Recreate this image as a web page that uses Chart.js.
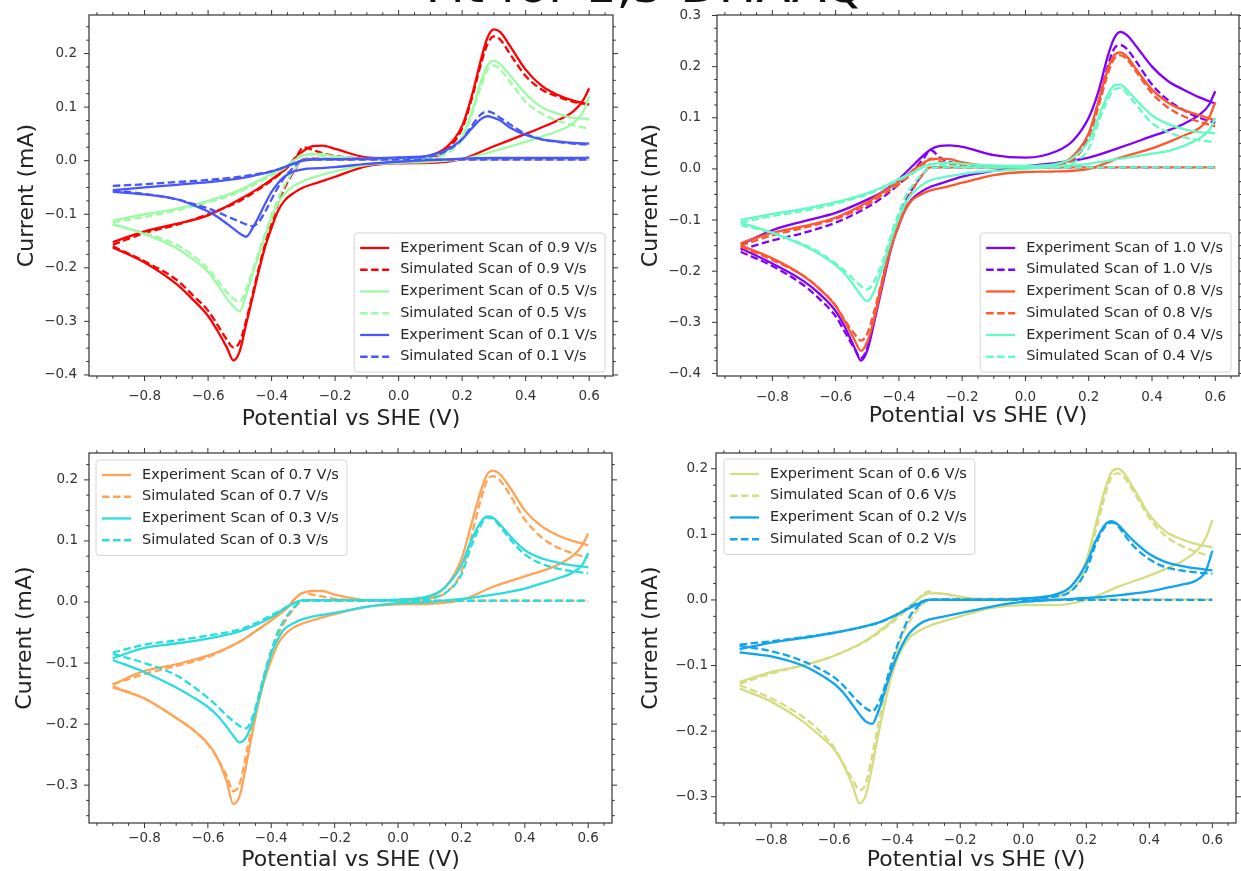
<!DOCTYPE html>
<html><head><meta charset="utf-8">
<script src="https://cdn.jsdelivr.net/npm/chart.js@4.4.0/dist/chart.umd.min.js"></script>
<style>
html,body{margin:0;padding:0;background:#fff;overflow:hidden;width:1241px;height:871px;position:relative;}
canvas{position:absolute;}
#title{position:absolute;left:0;top:-40px;width:1290px;text-align:center;font:50px/50px "DejaVu Sans";color:#111;white-space:nowrap;z-index:5;}
</style></head><body>
<canvas id="c1" width="620" height="435" style="left:0;top:0"></canvas>
<canvas id="c2" width="621" height="435" style="left:620px;top:0"></canvas>
<canvas id="c3" width="620" height="436" style="left:0;top:435px"></canvas>
<canvas id="c4" width="621" height="436" style="left:620px;top:435px"></canvas>
<div id="title">Fit for 1,5 DHAAQ</div>
<script>
// Potential grids (V vs SHE): cathodic sweep branch and anodic sweep branch
const NEG_X = [-0.9,-0.8,-0.7,-0.65,-0.6,-0.57,-0.54,-0.52,-0.5,-0.48,-0.46,-0.44,-0.42,-0.4,-0.38,-0.36,-0.33,-0.3,-0.25,-0.2,-0.1,0.0,0.1,0.2,0.3,0.4,0.45,0.5,0.55,0.58,0.6];
const POS_X = [-0.9,-0.8,-0.7,-0.6,-0.5,-0.45,-0.4,-0.35,-0.32,-0.3,-0.27,-0.24,-0.2,-0.1,0.0,0.1,0.15,0.2,0.23,0.26,0.28,0.3,0.32,0.35,0.4,0.45,0.5,0.55,0.6];

// Current (mA) — 0.9 V/s
const exp_09_c = [-0.162,-0.19,-0.23,-0.258,-0.29,-0.318,-0.35,-0.373,-0.355,-0.305,-0.255,-0.205,-0.16,-0.125,-0.094,-0.075,-0.06,-0.05,-0.04,-0.03,-0.01,-0.005,-0.004,0.003,0.027,0.05,0.062,0.075,0.092,0.112,0.135];
const exp_09_a = [-0.152,-0.132,-0.118,-0.102,-0.072,-0.055,-0.035,-0.012,0.008,0.018,0.027,0.028,0.022,0.006,0.004,0.01,0.025,0.065,0.12,0.19,0.23,0.245,0.24,0.215,0.17,0.14,0.123,0.112,0.105];
const sim_09_c = [-0.16,-0.188,-0.222,-0.25,-0.28,-0.307,-0.335,-0.349,-0.338,-0.298,-0.25,-0.2,-0.155,-0.115,-0.08,-0.052,-0.02,0.003,0.004,0.003,0.003,0.003,0.003,0.003,0.003,0.003,0.003,0.003,0.003,0.003,0.003];
const sim_09_a = [-0.157,-0.135,-0.12,-0.1,-0.075,-0.057,-0.037,-0.012,0.01,0.025,0.02,0.014,0.009,0.004,0.004,0.006,0.02,0.06,0.115,0.182,0.218,0.232,0.226,0.2,0.158,0.133,0.12,0.11,0.105];
// 0.5 V/s
const exp_05_c = [-0.118,-0.137,-0.163,-0.183,-0.208,-0.232,-0.258,-0.272,-0.281,-0.25,-0.212,-0.176,-0.14,-0.107,-0.08,-0.062,-0.047,-0.038,-0.028,-0.02,-0.008,-0.004,-0.002,0.003,0.018,0.035,0.045,0.055,0.07,0.09,0.12];
const exp_05_a = [-0.112,-0.1,-0.09,-0.075,-0.055,-0.04,-0.025,-0.008,0.004,0.01,0.013,0.012,0.008,0.004,0.004,0.008,0.018,0.045,0.09,0.15,0.178,0.187,0.18,0.16,0.125,0.1,0.088,0.08,0.078];
const sim_05_c = [-0.12,-0.135,-0.157,-0.176,-0.202,-0.224,-0.246,-0.258,-0.263,-0.24,-0.205,-0.17,-0.135,-0.1,-0.072,-0.047,-0.018,0.002,0.003,0.003,0.003,0.003,0.003,0.003,0.003,0.003,0.003,0.003,0.003,0.003,0.003];
const sim_05_a = [-0.115,-0.105,-0.093,-0.078,-0.058,-0.043,-0.028,-0.01,0.005,0.012,0.011,0.008,0.005,0.003,0.003,0.005,0.013,0.04,0.085,0.14,0.17,0.178,0.17,0.148,0.11,0.088,0.075,0.066,0.06];
// 0.1 V/s
const exp_01_c = [-0.058,-0.063,-0.072,-0.082,-0.095,-0.105,-0.118,-0.127,-0.136,-0.142,-0.126,-0.104,-0.08,-0.058,-0.042,-0.03,-0.02,-0.016,-0.014,-0.012,-0.006,-0.002,0.001,0.004,0.005,0.005,0.005,0.005,0.005,0.005,0.006];
const exp_01_a = [-0.055,-0.05,-0.045,-0.04,-0.033,-0.027,-0.02,-0.01,-0.003,0.0,0.002,0.003,0.003,0.004,0.006,0.01,0.02,0.04,0.06,0.078,0.083,0.08,0.075,0.062,0.048,0.04,0.036,0.033,0.032];
const sim_01_c = [-0.055,-0.062,-0.072,-0.08,-0.089,-0.096,-0.104,-0.109,-0.114,-0.119,-0.122,-0.114,-0.095,-0.072,-0.05,-0.032,-0.012,0.002,0.002,0.002,0.002,0.002,0.002,0.002,0.002,0.002,0.002,0.002,0.002,0.002,0.002];
const sim_01_a = [-0.047,-0.044,-0.04,-0.036,-0.03,-0.025,-0.02,-0.01,-0.003,0.001,0.003,0.003,0.003,0.004,0.005,0.008,0.018,0.04,0.065,0.087,0.092,0.088,0.08,0.068,0.05,0.04,0.035,0.032,0.03];
// 1.0 V/s
const exp_10_c = [-0.155,-0.185,-0.22,-0.245,-0.278,-0.31,-0.35,-0.375,-0.355,-0.305,-0.25,-0.195,-0.145,-0.11,-0.08,-0.06,-0.045,-0.035,-0.025,-0.015,-0.004,0.005,0.012,0.022,0.042,0.064,0.075,0.088,0.106,0.125,0.152];
const exp_10_a = [-0.148,-0.12,-0.102,-0.086,-0.06,-0.044,-0.02,0.01,0.028,0.038,0.045,0.046,0.043,0.027,0.022,0.035,0.055,0.1,0.15,0.22,0.255,0.268,0.262,0.24,0.2,0.172,0.155,0.14,0.128];
const sim_10_c = [-0.162,-0.19,-0.228,-0.255,-0.288,-0.32,-0.352,-0.37,-0.35,-0.298,-0.24,-0.185,-0.135,-0.095,-0.065,-0.042,-0.015,0.003,0.003,0.003,0.003,0.003,0.003,0.003,0.003,0.003,0.003,0.003,0.003,0.003,0.003];
const sim_10_a = [-0.158,-0.14,-0.125,-0.105,-0.075,-0.055,-0.03,0.0,0.022,0.037,0.022,0.014,0.008,0.005,0.005,0.008,0.02,0.065,0.13,0.2,0.235,0.242,0.235,0.21,0.165,0.135,0.115,0.1,0.09];
// 0.8 V/s
const exp_08_c = [-0.15,-0.175,-0.21,-0.235,-0.268,-0.3,-0.335,-0.356,-0.338,-0.298,-0.245,-0.19,-0.145,-0.11,-0.08,-0.062,-0.05,-0.042,-0.035,-0.027,-0.012,-0.006,-0.005,0.0,0.022,0.04,0.052,0.065,0.08,0.1,0.13];
const exp_08_a = [-0.145,-0.125,-0.112,-0.095,-0.065,-0.045,-0.025,0.0,0.013,0.018,0.02,0.019,0.013,0.005,0.003,0.008,0.025,0.07,0.13,0.195,0.222,0.228,0.22,0.195,0.155,0.13,0.115,0.105,0.095];
const sim_08_c = [-0.152,-0.178,-0.21,-0.235,-0.267,-0.297,-0.323,-0.336,-0.322,-0.283,-0.235,-0.185,-0.14,-0.1,-0.07,-0.045,-0.015,0.003,0.003,0.003,0.003,0.003,0.003,0.003,0.003,0.003,0.003,0.003,0.003,0.003,0.003];
const sim_08_a = [-0.15,-0.13,-0.115,-0.098,-0.07,-0.05,-0.03,-0.005,0.01,0.02,0.015,0.01,0.006,0.004,0.004,0.007,0.018,0.06,0.12,0.185,0.215,0.222,0.215,0.19,0.148,0.12,0.103,0.092,0.083];
// 0.4 V/s
const exp_04_c = [-0.105,-0.125,-0.15,-0.167,-0.188,-0.206,-0.23,-0.247,-0.259,-0.242,-0.208,-0.17,-0.13,-0.095,-0.068,-0.05,-0.033,-0.022,-0.015,-0.01,-0.004,0.0,0.005,0.01,0.02,0.03,0.035,0.045,0.06,0.075,0.1];
const exp_04_a = [-0.1,-0.088,-0.078,-0.065,-0.048,-0.035,-0.02,-0.005,0.005,0.009,0.011,0.012,0.01,0.007,0.006,0.01,0.022,0.055,0.1,0.145,0.163,0.165,0.155,0.135,0.105,0.088,0.078,0.072,0.07];
const sim_04_c = [-0.11,-0.125,-0.148,-0.164,-0.185,-0.2,-0.218,-0.229,-0.236,-0.222,-0.195,-0.16,-0.12,-0.085,-0.055,-0.035,-0.012,0.002,0.003,0.003,0.003,0.003,0.003,0.003,0.003,0.003,0.003,0.003,0.003,0.003,0.003];
const sim_04_a = [-0.105,-0.092,-0.082,-0.068,-0.05,-0.037,-0.022,-0.006,0.006,0.01,0.008,0.006,0.004,0.003,0.003,0.005,0.012,0.04,0.09,0.135,0.155,0.158,0.148,0.125,0.09,0.072,0.062,0.056,0.052];
// 0.7 V/s
const exp_07_c = [-0.14,-0.158,-0.19,-0.208,-0.232,-0.255,-0.295,-0.331,-0.318,-0.27,-0.215,-0.165,-0.125,-0.095,-0.07,-0.055,-0.042,-0.035,-0.027,-0.02,-0.008,-0.004,-0.003,0.003,0.025,0.042,0.05,0.06,0.075,0.092,0.112];
const exp_07_a = [-0.135,-0.113,-0.102,-0.088,-0.065,-0.048,-0.03,-0.01,0.008,0.015,0.018,0.018,0.012,0.003,0.002,0.008,0.025,0.07,0.125,0.18,0.208,0.215,0.21,0.19,0.15,0.125,0.11,0.1,0.093];
const sim_07_c = [-0.138,-0.158,-0.19,-0.208,-0.233,-0.256,-0.285,-0.31,-0.298,-0.252,-0.2,-0.155,-0.115,-0.08,-0.055,-0.035,-0.012,0.002,0.002,0.002,0.002,0.002,0.002,0.002,0.002,0.002,0.002,0.002,0.002,0.002,0.002];
const sim_07_a = [-0.135,-0.118,-0.105,-0.09,-0.065,-0.048,-0.03,-0.008,0.008,0.015,0.012,0.009,0.005,0.003,0.003,0.006,0.015,0.05,0.105,0.165,0.198,0.206,0.2,0.178,0.135,0.107,0.09,0.08,0.072];
// 0.3 V/s
const exp_03_c = [-0.095,-0.115,-0.14,-0.155,-0.172,-0.186,-0.205,-0.219,-0.23,-0.222,-0.198,-0.16,-0.12,-0.085,-0.062,-0.045,-0.035,-0.028,-0.022,-0.018,-0.008,-0.002,0.0,0.005,0.012,0.022,0.03,0.038,0.048,0.06,0.08];
const exp_03_a = [-0.092,-0.075,-0.068,-0.06,-0.048,-0.038,-0.025,-0.008,0.0,0.003,0.003,0.003,0.003,0.003,0.004,0.01,0.025,0.06,0.1,0.13,0.14,0.138,0.128,0.11,0.085,0.072,0.065,0.06,0.057];
const sim_03_c = [-0.085,-0.1,-0.12,-0.137,-0.157,-0.171,-0.186,-0.195,-0.203,-0.207,-0.19,-0.155,-0.115,-0.08,-0.05,-0.03,-0.01,0.002,0.002,0.002,0.002,0.002,0.002,0.002,0.002,0.002,0.002,0.002,0.002,0.002,0.002];
const sim_03_a = [-0.083,-0.07,-0.063,-0.055,-0.045,-0.035,-0.022,-0.008,0.0,0.003,0.003,0.003,0.003,0.003,0.003,0.006,0.015,0.045,0.09,0.125,0.138,0.136,0.125,0.105,0.078,0.063,0.055,0.05,0.047];
// 0.6 V/s
const exp_06_c = [-0.135,-0.155,-0.185,-0.205,-0.228,-0.252,-0.285,-0.31,-0.298,-0.255,-0.205,-0.16,-0.12,-0.09,-0.07,-0.057,-0.047,-0.04,-0.032,-0.025,-0.012,-0.008,-0.008,0.0,0.02,0.037,0.047,0.058,0.075,0.095,0.122];
const exp_06_a = [-0.125,-0.11,-0.1,-0.085,-0.062,-0.045,-0.025,-0.005,0.006,0.01,0.01,0.009,0.005,0.0,0.0,0.006,0.02,0.06,0.115,0.17,0.195,0.2,0.193,0.17,0.13,0.105,0.093,0.085,0.08];
const sim_06_c = [-0.13,-0.15,-0.178,-0.198,-0.225,-0.25,-0.275,-0.29,-0.28,-0.238,-0.19,-0.145,-0.108,-0.075,-0.05,-0.032,-0.012,0.001,0.001,0.001,0.001,0.001,0.001,0.001,0.001,0.001,0.001,0.001,0.001,0.001,0.001];
const sim_06_a = [-0.128,-0.112,-0.1,-0.085,-0.063,-0.047,-0.028,-0.006,0.008,0.013,0.01,0.008,0.004,0.002,0.002,0.005,0.014,0.05,0.105,0.16,0.188,0.193,0.187,0.165,0.125,0.098,0.083,0.073,0.066];
// 0.2 V/s
const exp_02_c = [-0.08,-0.086,-0.1,-0.112,-0.128,-0.142,-0.161,-0.174,-0.185,-0.189,-0.17,-0.14,-0.11,-0.085,-0.065,-0.05,-0.037,-0.03,-0.025,-0.02,-0.01,-0.003,0.0,0.003,0.007,0.013,0.018,0.023,0.03,0.045,0.075];
const exp_02_a = [-0.075,-0.065,-0.058,-0.05,-0.04,-0.033,-0.022,-0.01,-0.003,0.0,0.0,0.0,0.0,0.0,0.002,0.008,0.02,0.055,0.09,0.115,0.12,0.115,0.105,0.09,0.07,0.058,0.052,0.048,0.045];
const sim_02_c = [-0.07,-0.078,-0.093,-0.104,-0.118,-0.131,-0.147,-0.157,-0.165,-0.17,-0.158,-0.133,-0.1,-0.07,-0.045,-0.025,-0.008,0.0,0.0,0.0,0.0,0.0,0.0,0.0,0.0,0.0,0.0,0.0,0.0,0.0,0.0];
const sim_02_a = [-0.068,-0.063,-0.057,-0.05,-0.04,-0.033,-0.022,-0.008,-0.002,0.0,0.001,0.001,0.001,0.001,0.002,0.005,0.013,0.045,0.085,0.112,0.118,0.113,0.1,0.082,0.062,0.05,0.045,0.042,0.04];

const PANEL_RATES = [["0.9","0.5","0.1"],["1.0","0.8","0.4"],["0.7","0.3"],["0.6","0.2"]];
const SERIES = {
  "0.9":[exp_09_c,exp_09_a,sim_09_c,sim_09_a], "0.5":[exp_05_c,exp_05_a,sim_05_c,sim_05_a], "0.1":[exp_01_c,exp_01_a,sim_01_c,sim_01_a],
  "1.0":[exp_10_c,exp_10_a,sim_10_c,sim_10_a], "0.8":[exp_08_c,exp_08_a,sim_08_c,sim_08_a], "0.4":[exp_04_c,exp_04_a,sim_04_c,sim_04_a],
  "0.7":[exp_07_c,exp_07_a,sim_07_c,sim_07_a], "0.3":[exp_03_c,exp_03_a,sim_03_c,sim_03_a],
  "0.6":[exp_06_c,exp_06_a,sim_06_c,sim_06_a], "0.2":[exp_02_c,exp_02_a,sim_02_c,sim_02_a]
};
const COLORS = {"1.0":"#8000ff","0.1":"#4757fb","0.2":"#0ea4f0","0.3":"#2adddd","0.4":"#63fbc3","0.5":"#9cfba4","0.6":"#d4dd80","0.7":"#ffa457","0.8":"#ff572c","0.9":"#ff0000"};

const LAYOUT = [
  {id:'c1', L:89, T:15, R:613, B:376, ymin:-0.402, ymax:0.272, ytt:14, xtt:3, ytp:12, xtp:12, corner:'lr', dx:8, dy:4},
  {id:'c2', L:97, T:15, R:619, B:376, ymin:-0.405, ymax:0.301, ytt:18, xtt:6, ytp:16, xtp:13, corner:'lr', dx:8, dy:4},
  {id:'c3', L:89, T:18, R:612, B:388, ymin:-0.362, ymax:0.244, ytt:12, xtt:-2, ytp:11, xtp:7, corner:'ul', dx:7, dy:7},
  {id:'c4', L:96, T:18, R:616, B:388, ymin:-0.34, ymax:0.224, ytt:18, xtt:-2, ytp:8, xtp:9, corner:'ul', dx:8, dy:6}
];

const FONT = '"DejaVu Sans"';
const fmt = v => Math.abs(v) < 1e-9 ? '0.0' : (v < 0 ? '\u2212' + Math.abs(v).toFixed(1) : v.toFixed(1));
const zeroPad = s => { s.paddingTop = 0; s.paddingBottom = 0; s.paddingLeft = 0; s.paddingRight = 0; };

const cvPlugin = {
  id: 'cvFrame',
  afterDatasetsDraw(chart, args, o) {
    const {ctx, chartArea: a} = chart;
    const xs = chart.scales.x, ys = chart.scales.y;
    ctx.save();
    ctx.strokeStyle = '#333'; ctx.lineWidth = 1.2; ctx.setLineDash([]);
    ctx.strokeRect(a.left, a.top, a.right - a.left, a.bottom - a.top);
    ctx.lineWidth = 1;
    const tick = (sc, step, ratio, horiz) => {
      const k0 = Math.ceil(sc.min / step - 1e-6), k1 = Math.floor(sc.max / step + 1e-6);
      for (let k = k0; k <= k1; k++) {
        const p = sc.getPixelForValue(k * step);
        const len = (((k % ratio) + ratio) % ratio === 0) ? 5 : 2.8;
        ctx.beginPath();
        if (horiz) { ctx.moveTo(p, a.bottom); ctx.lineTo(p, a.bottom + len); ctx.moveTo(p, a.top); ctx.lineTo(p, a.top - len); }
        else { ctx.moveTo(a.left, p); ctx.lineTo(a.left - len, p); ctx.moveTo(a.right, p); ctx.lineTo(a.right + len, p); }
        ctx.stroke();
      }
    };
    tick(xs, 0.05, 4, true);
    tick(ys, 0.025, 4, false);
    // legend
    const items = chart.data.datasets.filter(d => d.inLegend);
    ctx.font = '14.5px ' + FONT;
    const tw = Math.max(...items.map(d => ctx.measureText(d.label).width));
    const rowH = 21.75, padL = 6, hl = 29, gap = 11, padR = 8;
    const bw = padL + hl + gap + tw + padR, bh = items.length * rowH + 8.5;
    let bx, by;
    if (o.corner === 'lr') { bx = a.right - o.dx - bw; by = a.bottom - o.dy - bh; }
    else { bx = a.left + o.dx; by = a.top + o.dy; }
    ctx.beginPath();
    if (ctx.roundRect) ctx.roundRect(bx, by, bw, bh, 3); else ctx.rect(bx, by, bw, bh);
    ctx.fillStyle = 'rgba(255,255,255,0.85)'; ctx.fill();
    ctx.strokeStyle = '#d4d4d4'; ctx.lineWidth = 1; ctx.stroke();
    items.forEach((d, i) => {
      const cy = by + 4.1 + rowH * (i + 0.5);
      ctx.strokeStyle = d.borderColor; ctx.lineWidth = d.borderWidth; ctx.setLineDash(d.borderDash || []);
      ctx.beginPath(); ctx.moveTo(bx + padL, cy); ctx.lineTo(bx + padL + hl, cy); ctx.stroke();
      ctx.setLineDash([]);
      ctx.fillStyle = '#262626'; ctx.textBaseline = 'middle'; ctx.textAlign = 'left';
      ctx.fillText(d.label, bx + padL + hl + gap, cy);
    });
    ctx.restore();
  }
};

PANEL_RATES.forEach((rates, pi) => {
  const L = LAYOUT[pi];
  const cv = document.getElementById(L.id);
  const W = cv.width, H = cv.height;
  const datasets = [];
  rates.forEach(r => {
    const [ec, ea, sc, sa] = SERIES[r];
    [['Experiment', ec, ea, []], ['Simulated', sc, sa, [7.5, 3.5]]].forEach(([kind, c, an, dash]) => {
      const base = {label: kind + ' Scan of ' + r + ' V/s', borderColor: COLORS[r], backgroundColor: COLORS[r],
        borderWidth: 2.3, borderDash: dash, pointRadius: 0, pointHoverRadius: 0, fill: false,
        cubicInterpolationMode: 'monotone'};
      datasets.push(Object.assign({}, base, {data: NEG_X.map((x, i) => ({x, y: c[i]})), inLegend: true}));
      datasets.push(Object.assign({}, base, {data: POS_X.map((x, i) => ({x, y: an[i]})), inLegend: false}));
    });
  });
  datasets.forEach((d, i) => { d.order = -i; });
  new Chart(cv, {
    type: 'line',
    data: {datasets},
    plugins: [cvPlugin],
    options: {
      responsive: false, animation: false, events: [],
      layout: {padding: {left: 0, top: L.T, right: W - L.R, bottom: 0}},
      plugins: {legend: {display: false}, tooltip: {enabled: false},
        cvFrame: {corner: L.corner, dx: L.dx, dy: L.dy}},
      scales: {
        x: {type: 'linear', min: -0.975, max: 0.675,
          afterFit: s => { s.height = H - L.B; zeroPad(s); },
          grid: {display: false, drawTicks: false}, border: {display: false},
          ticks: {stepSize: 0.2, includeBounds: false, autoSkip: false, maxRotation: 0, padding: L.xtp,
            font: {family: FONT, size: 13.5}, color: '#333', callback: v => fmt(v)},
          title: {display: true, text: 'Potential vs SHE (V)', font: {family: FONT, size: 22}, color: '#222',
            padding: {top: 0, bottom: L.xtt}}},
        y: {type: 'linear', min: L.ymin, max: L.ymax,
          afterFit: s => { s.width = L.L; zeroPad(s); },
          grid: {display: false, drawTicks: false}, border: {display: false},
          ticks: {stepSize: 0.1, includeBounds: false, autoSkip: false, padding: L.ytp,
            font: {family: FONT, size: 13.5}, color: '#333', callback: v => fmt(v)},
          title: {display: true, text: 'Current (mA)', font: {family: FONT, size: 22}, color: '#222',
            padding: {top: L.ytt, bottom: 0}}}
      }
    }
  });
});
</script>
</body></html>
